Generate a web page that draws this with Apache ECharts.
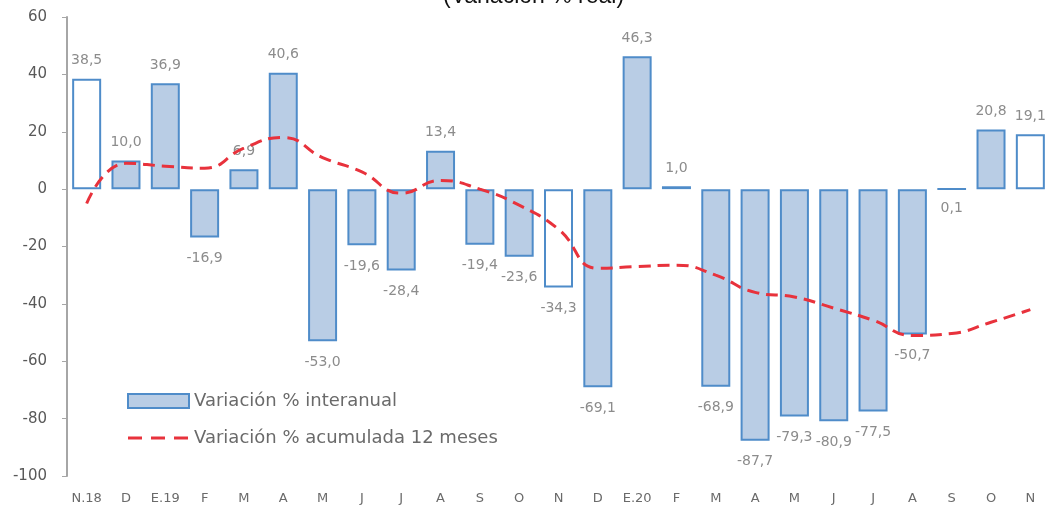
<!DOCTYPE html>
<html>
<head>
<meta charset="utf-8">
<script src="https://cdn.jsdelivr.net/npm/echarts@6/dist/echarts.min.js"></script>
<style>html,body{margin:0;padding:0;background:#fff}#c{width:1050px;height:518px}</style>
</head>
<body>
<div id="c"></div>
<script>
const categories = ['N.18','D','E.19','F','M','A','M','J','J','A','S','O','N','D','E.20','F','M','A','M','J','J','A','S','O','N'];
const interanual = [38.5,10.0,36.9,-16.9,6.9,40.6,-53.0,-19.6,-28.4,13.4,-19.4,-23.6,-34.3,-69.1,46.3,1.0,-68.9,-87.7,-79.3,-80.9,-77.5,-50.7,0.1,20.8,19.1];
const acumulada = [-5,9,8,7.3,14.3,18,11,6,-1.4,3,0,-5.6,-14,-27.6,-27,-26.5,-30,-36,-37.6,-41.5,-45.7,-51,-50.3,-46.4,-42];
const whiteIdx = [0,12,24];
const yTicks = {min:-100,max:60,interval:20};

const fmt = v => v.toFixed(1).replace('.', ',');
const dashIcon = 'path://M0,0h0.01v0.01h-0.01z M0,5.5h14v3h-14z M23,5.5h14v3h-14z M46,5.5h14v3h-14z M60.99,13.99h0.01v0.01h-0.01z';
const chart = echarts.init(document.getElementById('c'));
chart.setOption({
  animation:false,
  title:{text:'(Variación % real)',left:438,top:-20,textStyle:{fontFamily:'Liberation Sans',fontSize:23,fontWeight:'normal',color:'#111'}},
  grid:{left:67,right:0,top:17,bottom:42},
  legend:{orient:'vertical',left:127,top:392,padding:0,itemWidth:61,itemHeight:14,itemGap:19,
    textStyle:{fontFamily:'DejaVu Sans',fontSize:18,color:'#6a6a6a'},
    data:[{name:'Variación % interanual',icon:'rect'},{name:'Variación % acumulada 12 meses',icon:dashIcon,itemStyle:{color:'#e8323c',borderWidth:0}}]},
  xAxis:{type:'category',data:categories,position:'bottom',
    axisLine:{show:false},axisTick:{show:false},
    axisLabel:{fontFamily:'DejaVu Sans',fontSize:13,color:'#6a6a6a',margin:16,interval:0}},
  yAxis:{type:'value',min:yTicks.min,max:yTicks.max,interval:yTicks.interval,
    splitLine:{show:false},
    axisLine:{show:true,lineStyle:{color:'#a6a6a6',width:2}},
    axisTick:{show:true,length:5,lineStyle:{color:'#a6a6a6'}},
    axisLabel:{fontFamily:'DejaVu Sans',fontSize:15,color:'#595959',margin:20}},
  series:[
    {name:'Variación % interanual',type:'bar',barWidth:29,
     data:interanual.map((v,i)=>{
       const item={value:v,label:{distance:v<0?14:11}};
       if(whiteIdx.includes(i)) item.itemStyle={color:'#ffffff'};
       return item;
     }),
     itemStyle:{color:'#b9cde5',borderColor:'#4f8cc9',borderWidth:2},
     label:{show:true,position:'outside',formatter:p=>fmt(p.value),fontFamily:'DejaVu Sans',fontSize:14,color:'#8c8c8c'}},
    {name:'Variación % acumulada 12 meses',type:'line',smooth:0.5,symbol:'none',data:acumulada,
     lineStyle:{color:'#e8323c',width:3,type:[12,7]},itemStyle:{color:'#e8323c'},z:3}
  ]
});
</script>
</body>
</html>
